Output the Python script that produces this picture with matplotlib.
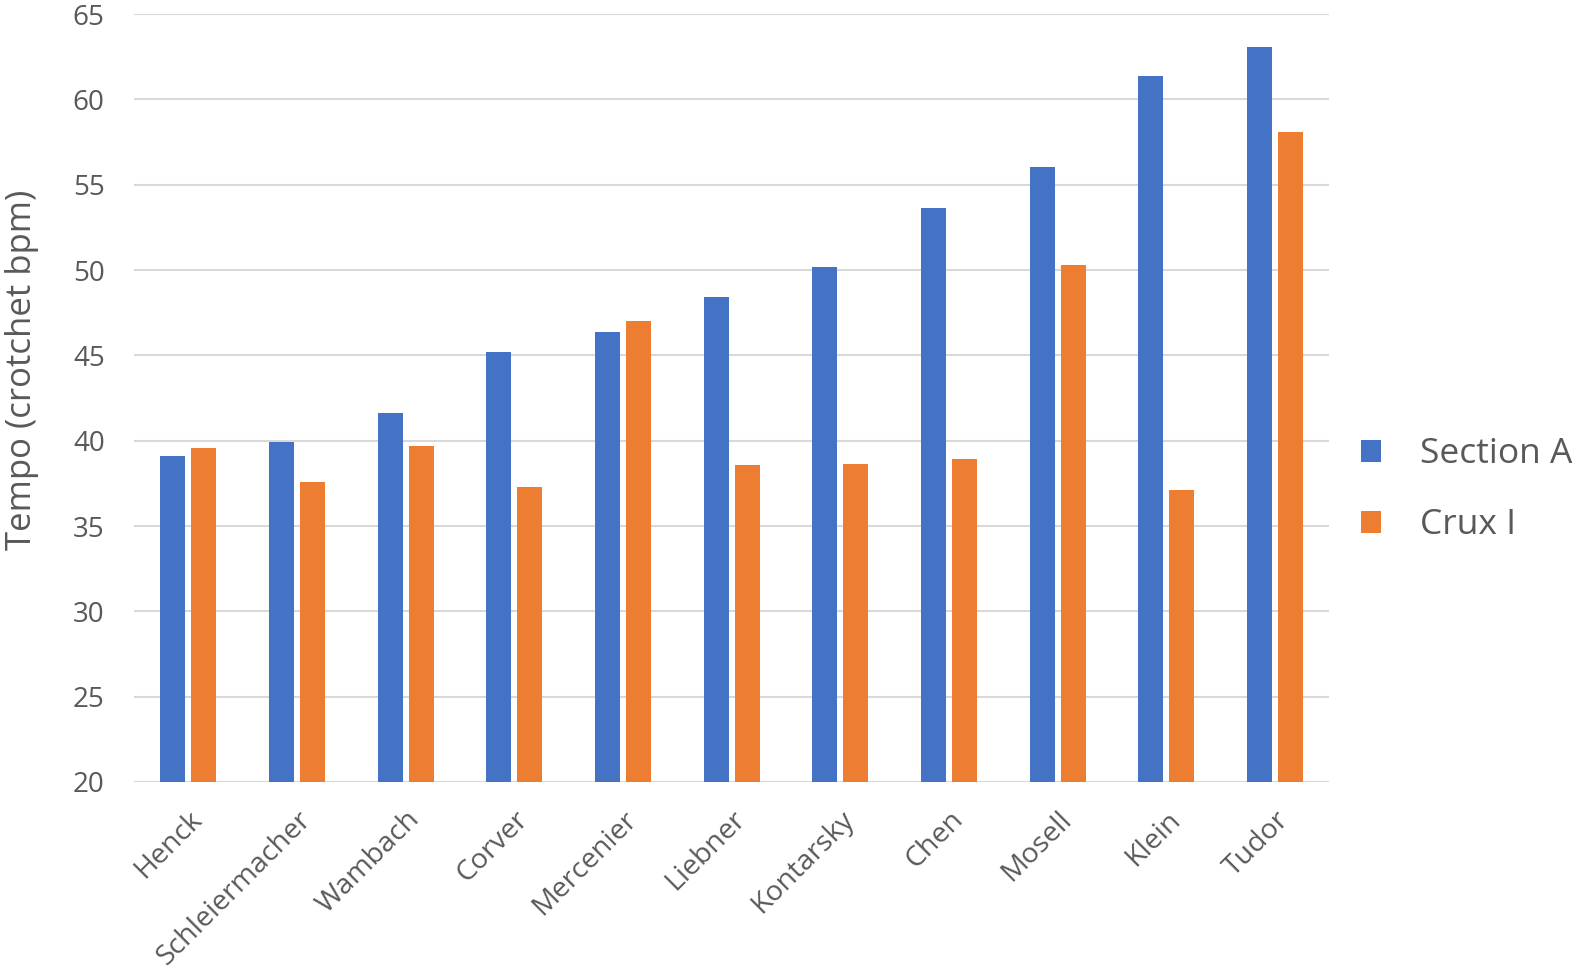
import matplotlib
matplotlib.use("Agg")
import matplotlib.pyplot as plt
import numpy as np

performers = ["Henck", "Schleiermacher", "Wambach", "Corver", "Mercenier", "Liebner",
              "Kontarsky", "Chen", "Mosell", "Klein", "Tudor"]
section_a = [39.1, 39.9, 41.6, 45.2, 46.35, 48.4, 50.2, 53.65, 56.05, 61.4, 63.1]
crux_i = [39.6, 37.6, 39.7, 37.3, 47.0, 38.55, 38.65, 38.95, 50.3, 37.1, 58.1]
yticks = [20, 25, 30, 35, 40, 45, 50, 55, 60, 65]

BLUE = "#4472C4"
ORANGE = "#ED7D31"
GRAY = "#595959"
GRID = "#D9D9D9"

plt.rcParams['font.family'] = ['Open Sans', 'DejaVu Sans']

fig = plt.figure(figsize=(15.75, 9.72), dpi=100)
ax = fig.add_axes([0.085, 0.1955, 0.759, 0.790])

x = np.arange(len(performers))
w = 0.23
off = 0.143
ax.bar(x - off, section_a, width=w, color=BLUE, label="Section A", zorder=3)
ax.bar(x + off, crux_i, width=w, color=ORANGE, label="Crux I", zorder=3)

ax.set_xlim(-0.5, len(performers) - 0.5)
ax.set_ylim(20, 65)
ax.set_yticks(yticks)
ax.set_yticklabels([str(t) for t in yticks], fontsize=20, color=GRAY)
ax.yaxis.grid(True, color=GRID, linewidth=1.5, zorder=0)
ax.set_axisbelow(True)
ax.tick_params(axis='y', length=0, pad=21)
ax.tick_params(axis='x', length=0, pad=17)
ax.set_xticks(x)
ax.set_xticklabels(performers, rotation=45, ha='right', rotation_mode='anchor',
                   fontsize=20.5, color=GRAY)
for s in ax.spines.values():
    s.set_visible(False)
ax.axhline(20, color=GRID, linewidth=1.5, zorder=1)

fig.text(22 / 1575, 0.619, "Tempo (crotchet bpm)", rotation=90, ha='center',
         va='center', fontsize=25, color=GRAY)

leg = fig.legend(loc='center left', bbox_to_anchor=(0.864, 0.496), frameon=False,
                 fontsize=25.5, labelcolor=GRAY, handlelength=0.57, handleheight=0.57,
                 handletextpad=1.1, labelspacing=1.05, borderpad=0, borderaxespad=0)

fig.savefig("out.png", dpi=100)
